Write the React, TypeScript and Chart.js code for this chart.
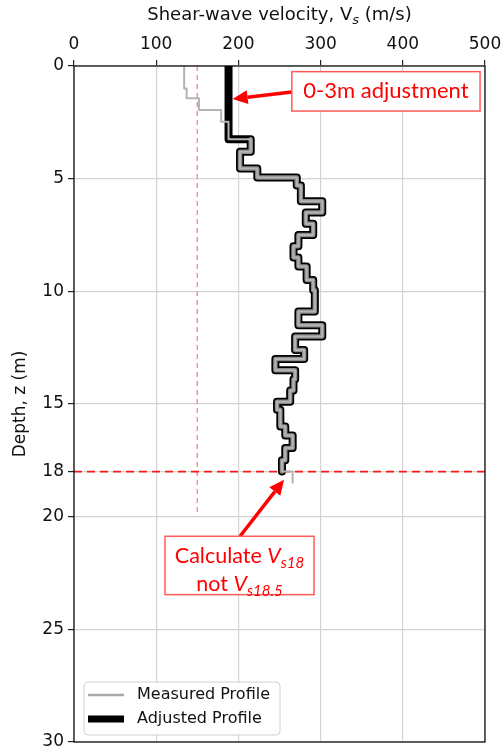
import React, { useEffect, useRef } from 'react';
import { Chart, registerables } from 'chart.js';

Chart.register(...registerables);

const xTickValues = [0, 100, 200, 300, 400, 500];
const yTickValues = [0, 5, 10, 15, 18, 20, 25, 30];

// Measured profile: layer top depths (m) and velocities (m/s)
const measuredTops = [0, 1.0, 1.43, 1.95, 2.47, 3.25, 3.8, 4.55, 4.95, 5.3, 6.0, 6.5, 7.0, 7.5, 8.0, 8.5, 8.9, 9.5, 9.95, 10.9, 11.5, 12.0, 12.6, 13.0, 13.5, 13.9, 14.4, 14.9, 15.25, 16.0, 16.4, 16.95, 17.5, 18.0];
const measuredVs = [134, 137, 152, 179, 188, 215, 202, 223, 271, 276, 302, 282, 291, 273, 267, 273, 283, 291, 293, 273, 302, 269, 280, 245, 269, 267, 263, 247, 251, 257, 266, 257, 253, 266];
const measuredBottom = 18.5;

// Adjusted profile
const adjustedTops = [0, 3.25, 3.8, 4.55, 4.95, 5.3, 6.0, 6.5, 7.0, 7.5, 8.0, 8.5, 8.9, 9.5, 9.95, 10.9, 11.5, 12.0, 12.6, 13.0, 13.5, 13.9, 14.4, 14.9, 15.25, 16.0, 16.4, 16.95, 17.5];
const adjustedVs = [188, 215, 202, 223, 271, 276, 302, 282, 291, 273, 267, 273, 283, 291, 293, 273, 302, 269, 280, 245, 269, 267, 263, 247, 251, 257, 266, 257, 253];
const adjustedBottom = 18.0;

const refVelocity = 150;
const refVelocityDepths = [0, 20];
const calcDepth = 18;
const calcDepthVelocities = [0, 500];

function stepPoints(tops: number[], vs: number[], bottom: number) {
  const pts: { x: number; y: number }[] = [];
  for (let i = 0; i < tops.length; i++) {
    const bot = i + 1 < tops.length ? tops[i + 1] : bottom;
    pts.push({ x: vs[i], y: tops[i] }, { x: vs[i], y: bot });
  }
  return pts;
}

type Seg = { t: string; it?: boolean; sub?: boolean };

function drawRich(ctx: CanvasRenderingContext2D, segs: Seg[], cx: number, cy: number, size: number, family: string, color: string) {
  const fontFor = (s: Seg) => `${s.it ? 'italic ' : ''}${s.sub ? Math.round(size * 0.7) : size}px ${family}`;
  let total = 0;
  for (const s of segs) { ctx.font = fontFor(s); total += ctx.measureText(s.t).width; }
  let x = cx - total / 2;
  ctx.fillStyle = color;
  ctx.textBaseline = 'middle';
  ctx.textAlign = 'left';
  for (const s of segs) {
    ctx.font = fontFor(s);
    ctx.fillText(s.t, x, cy + (s.sub ? size * 0.3 : 0));
    x += ctx.measureText(s.t).width;
  }
}

function drawArrow(ctx: CanvasRenderingContext2D, x0: number, y0: number, x1: number, y1: number) {
  const ang = Math.atan2(y1 - y0, x1 - x0);
  const headLen = 15, headW = 7;
  const bx = x1 - headLen * Math.cos(ang), by = y1 - headLen * Math.sin(ang);
  ctx.save();
  ctx.strokeStyle = '#ff0000';
  ctx.fillStyle = '#ff0000';
  ctx.lineWidth = 3.5;
  ctx.beginPath();
  ctx.moveTo(x0, y0);
  ctx.lineTo(bx, by);
  ctx.stroke();
  ctx.beginPath();
  ctx.moveTo(x1, y1);
  ctx.lineTo(bx + headW * Math.sin(ang), by - headW * Math.cos(ang));
  ctx.lineTo(bx - headW * Math.sin(ang), by + headW * Math.cos(ang));
  ctx.closePath();
  ctx.fill();
  ctx.restore();
}

const overlayPlugin = {
  id: 'overlay',
  afterDraw(chart: any) {
    const ctx: CanvasRenderingContext2D = chart.ctx;
    const { left, right, top, bottom } = chart.chartArea;
    const xs = chart.scales.x, ys = chart.scales.y;
    const px = (v: number) => xs.getPixelForValue(v);
    const py = (d: number) => ys.getPixelForValue(d);
    ctx.save();

    // frame
    ctx.strokeStyle = '#000';
    ctx.lineWidth = 1.2;
    ctx.strokeRect(left, top, right - left, bottom - top);

    // axis titles
    drawRich(ctx, [{ t: 'Shear-wave velocity, V' }, { t: 's', it: true, sub: true }, { t: ' (m/s)' }], (left + right) / 2, 15, 18, 'DejaVu Sans', '#111');
    ctx.save();
    ctx.translate(21, (top + bottom) / 2);
    ctx.rotate(-Math.PI / 2);
    drawRich(ctx, [{ t: 'Depth, z (m)' }], 0, 0, 17, 'DejaVu Sans', '#111');
    ctx.restore();

    // annotation 1
    const b1 = { x0: px(265), x1: px(494), y0: py(0.25), y1: py(2.0) };
    drawArrow(ctx, b1.x0, py(1.15), px(193), py(1.46));
    ctx.fillStyle = '#fff';
    ctx.fillRect(b1.x0, b1.y0, b1.x1 - b1.x0, b1.y1 - b1.y0);
    ctx.strokeStyle = '#ff5a5a';
    ctx.lineWidth = 1.5;
    ctx.strokeRect(b1.x0, b1.y0, b1.x1 - b1.x0, b1.y1 - b1.y0);
    drawRich(ctx, [{ t: '0-3m adjustment' }], (b1.x0 + b1.x1) / 2, (b1.y0 + b1.y1) / 2, 22, 'Lato', '#ff0000');

    // annotation 2
    const b2 = { x0: px(110.7), x1: px(292), y0: py(20.87), y1: py(23.46) };
    drawArrow(ctx, px(202), b2.y0, px(255.5), py(18.36));
    ctx.fillStyle = '#fff';
    ctx.fillRect(b2.x0, b2.y0, b2.x1 - b2.x0, b2.y1 - b2.y0);
    ctx.strokeStyle = '#ff5a5a';
    ctx.lineWidth = 1.5;
    ctx.strokeRect(b2.x0, b2.y0, b2.x1 - b2.x0, b2.y1 - b2.y0);
    const cx2 = (b2.x0 + b2.x1) / 2;
    drawRich(ctx, [{ t: 'Calculate ' }, { t: 'V', it: true }, { t: 's18', it: true, sub: true }], cx2, b2.y0 + 20, 21.5, 'Lato', '#ff0000');
    drawRich(ctx, [{ t: 'not ' }, { t: 'V', it: true }, { t: 's18.5', it: true, sub: true }], cx2, b2.y0 + 48, 21.5, 'Lato', '#ff0000');

    // legend
    const lx = left + 10, ly = bottom - 60, lw = 196, lh = 53;
    ctx.beginPath();
    ctx.roundRect(lx, ly, lw, lh, 4);
    ctx.fillStyle = 'rgba(255,255,255,0.85)';
    ctx.fill();
    ctx.strokeStyle = '#d0d0d0';
    ctx.lineWidth = 1;
    ctx.stroke();
    ctx.lineCap = 'butt';
    ctx.strokeStyle = '#a9a9a9';
    ctx.lineWidth = 2.5;
    ctx.beginPath(); ctx.moveTo(lx + 4, ly + 13); ctx.lineTo(lx + 40, ly + 13); ctx.stroke();
    ctx.strokeStyle = '#000';
    ctx.lineWidth = 7;
    ctx.beginPath(); ctx.moveTo(lx + 4, ly + 37); ctx.lineTo(lx + 40, ly + 37); ctx.stroke();
    ctx.fillStyle = '#111';
    ctx.font = '16px DejaVu Sans';
    ctx.textAlign = 'left';
    ctx.textBaseline = 'middle';
    ctx.fillText('Measured Profile', lx + 53, ly + 13);
    ctx.fillText('Adjusted Profile', lx + 53, ly + 37);

    ctx.restore();
  },
};

export default function App() {
  const ref = useRef<HTMLCanvasElement | null>(null);
  useEffect(() => {
    document.body.style.margin = '0';
    if (!ref.current) return;
    const chart = new Chart(ref.current, {
      type: 'scatter',
      data: {
        datasets: [
          {
            label: 'Measured Profile',
            data: stepPoints(measuredTops, measuredVs, measuredBottom),
            showLine: true,
            borderColor: '#b4b4b4',
            borderWidth: 2,
            pointRadius: 0,
            borderJoinStyle: 'round',
            order: 0,
          },
          {
            label: 'Adjusted inner',
            data: stepPoints(adjustedTops, adjustedVs, adjustedBottom).slice(2),
            showLine: true,
            borderColor: '#8a8a8a',
            borderWidth: 4.5,
            pointRadius: 0,
            borderJoinStyle: 'round',
            order: 1,
          },
          {
            label: 'Adjusted Profile',
            data: stepPoints(adjustedTops, adjustedVs, adjustedBottom),
            showLine: true,
            borderColor: '#000',
            borderWidth: 8,
            pointRadius: 0,
            borderJoinStyle: 'round',
            order: 2,
          },
          {
            label: 'calc depth',
            data: calcDepthVelocities.map((v) => ({ x: v, y: calcDepth })),
            showLine: true,
            borderColor: '#ff1a1a',
            borderWidth: 1.8,
            borderDash: [8, 5],
            pointRadius: 0,
            order: 3,
          },
          {
            label: 'ref velocity',
            data: refVelocityDepths.map((d) => ({ x: refVelocity, y: d })),
            showLine: true,
            borderColor: '#f7907f',
            borderWidth: 1.4,
            borderDash: [5, 4],
            pointRadius: 0,
            order: 4,
          },
        ],
      },
      options: {
        animation: false,
        responsive: true,
        maintainAspectRatio: false,
        layout: { padding: { top: 0, left: 0, right: 17, bottom: 11 } },
        plugins: { legend: { display: false }, tooltip: { enabled: false } },
        scales: {
          x: {
            type: 'linear',
            position: 'top',
            min: 0,
            max: 500,
            afterBuildTicks: (s: any) => { s.ticks = xTickValues.map((v) => ({ value: v })); },
            afterFit: (s: any) => { s.height = 66; s.paddingLeft = 0; s.paddingRight = 0; },
            ticks: { color: '#111', font: { family: 'DejaVu Sans', size: 17 }, padding: 5, maxRotation: 0 },
            grid: { color: '#d4d4d4', lineWidth: 1.2, tickLength: 6, tickColor: '#222', tickWidth: 1.2 },
            border: { display: false },
          },
          y: {
            type: 'linear',
            reverse: true,
            min: 0,
            max: 30,
            afterBuildTicks: (s: any) => { s.ticks = yTickValues.map((v) => ({ value: v })); },
            afterFit: (s: any) => { s.width = 74; s.paddingTop = 0; s.paddingBottom = 0; },
            ticks: { color: '#111', font: { family: 'DejaVu Sans', size: 17 }, padding: 4 },
            grid: { color: '#d4d4d4', lineWidth: 1.2, tickLength: 6, tickColor: '#222', tickWidth: 1.2 },
            border: { display: false },
          },
        },
      },
      plugins: [overlayPlugin],
    });
    return () => chart.destroy();
  }, []);
  return (
    <div style={{ width: 502, height: 753, position: 'relative' }}>
      <canvas ref={ref} />
    </div>
  );
}
